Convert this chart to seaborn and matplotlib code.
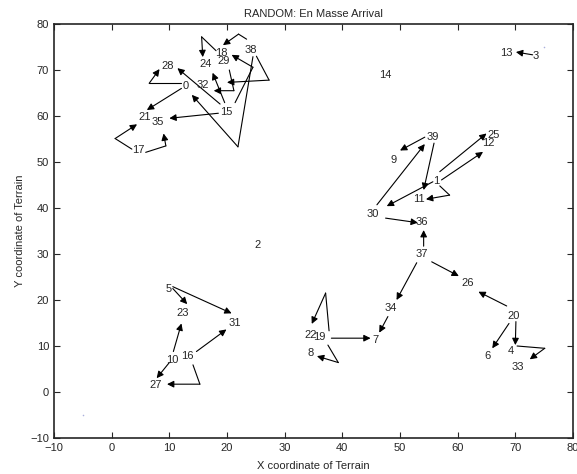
import seaborn as sns
import matplotlib.pyplot as plt
import pandas as pd

# node labels (where the number is written)
node_id = [0, 1, 2, 3, 4, 5, 6, 7, 8, 9, 10, 11, 12, 13, 14, 15, 16, 17, 18, 19,
           20, 21, 22, 23, 24, 25, 26, 27, 28, 29, 30, 31, 32, 33, 34, 35, 36, 37, 38, 39]
node_x = [12.3, 55.7, 24.7, 73.0, 68.7, 9.4, 64.6, 45.2, 33.9, 48.4, 9.5, 52.3, 64.3, 67.4, 46.4, 18.8, 12.1, 3.5, 17.9, 34.9,
          68.6, 4.6, 33.5, 11.3, 15.2, 65.1, 60.7, 6.6, 8.7, 18.4, 44.2, 20.3, 14.8, 69.4, 47.4, 6.9, 52.7, 52.7, 23.0, 54.6]
node_y = [66.6, 45.9, 32.0, 73.0, 8.9, 22.5, 7.9, 11.2, 8.4, 50.4, 7.0, 42.0, 54.1, 73.6, 68.9, 60.9, 7.8, 52.6, 73.8, 11.9,
          16.5, 59.7, 12.4, 17.1, 71.2, 55.9, 23.6, 1.5, 70.9, 72.0, 38.6, 14.9, 66.7, 5.5, 18.2, 58.8, 37.0, 30.0, 74.3, 55.4]

# movement paths, the last point is where the arrow points
path_x = [
    [12.0, 6.5, 8.3], [12.1, 6.1], [18.5, 10.0], [3.5, 0.6, 4.4], [5.9, 9.4, 9.0],
    [23.4, 22.0, 19.3], [18.1, 15.6, 15.8], [21.4, 24.5, 20.8], [25.1, 27.3, 20.0],
    [24.5, 21.9, 13.9], [20.4, 21.2, 17.7], [19.6, 17.5], [18.8, 11.4],
    [54.3, 50.0], [46.0, 54.3], [55.9, 54.1], [55.7, 47.7], [56.9, 65.0], [57.2, 64.4],
    [56.9, 58.6, 54.5], [47.5, 53.1], [54.1, 54.1],
    [52.9, 49.4], [55.5, 60.2], [68.5, 63.6], [68.9, 66.0], [70.1, 70.0], [70.3, 75.1, 72.5],
    [47.9, 46.4], [38.1, 44.9], [37.7, 37.1, 34.7], [37.5, 39.3, 35.6],
    [10.6, 13.1], [10.6, 20.8], [10.7, 12.1], [10.0, 7.8], [14.7, 19.9], [14.1, 15.3, 9.6],
    [73.0, 70.1],
]
path_y = [
    [67.1, 67.1, 70.2], [66.0, 61.3], [60.6, 59.5], [52.8, 55.1, 58.2], [52.1, 53.5, 56.2],
    [76.7, 77.8, 75.4], [74.2, 77.2, 72.8], [62.9, 70.6, 73.3], [73.0, 67.8, 67.3],
    [72.9, 53.3, 64.6], [70.0, 65.5, 65.5], [62.9, 69.4], [62.6, 70.4],
    [55.4, 52.5], [40.7, 53.9], [54.1, 43.9], [45.7, 40.4], [47.9, 56.2], [46.1, 52.2],
    [44.8, 42.8, 41.9], [37.8, 36.8], [31.7, 35.2],
    [28.1, 20.0], [28.3, 25.2], [18.7, 21.8], [14.9, 9.5], [15.3, 10.2], [10.0, 9.5, 7.1],
    [16.4, 12.9], [11.7, 11.7], [13.3, 21.5, 14.8], [10.2, 6.4, 7.8],
    [22.5, 19.1], [22.9, 17.1], [8.8, 14.9], [6.4, 3.0], [8.8, 13.6], [5.9, 1.7, 1.7],
    [73.3, 73.9],
]

# corner markers of the terrain
corner_x = [-5, 75]
corner_y = [-5, 75]

sns.set_style("ticks")
plt.rcParams['font.family'] = ['Liberation Sans', 'DejaVu Sans']
plt.rcParams['font.size'] = 8

fig = plt.figure(figsize=(5.77, 4.74), dpi=100)
ax = fig.add_axes([54 / 577, 36 / 474, 519 / 577, 414 / 474])

for xs, ys in zip(path_x, path_y):
    if len(xs) > 2:
        seg = pd.DataFrame({"x": xs[:-1], "y": ys[:-1]})
        sns.lineplot(data=seg, x="x", y="y", sort=False, estimator=None,
                     color="black", lw=0.8, ax=ax)
    ax.annotate("", xy=(xs[-1], ys[-1]), xytext=(xs[-2], ys[-2]),
                arrowprops=dict(arrowstyle="-|>", color="black", lw=0.8,
                                mutation_scale=10, shrinkA=0, shrinkB=0))

sns.scatterplot(x=corner_x, y=corner_y, s=1, color="#aab0dd", edgecolor=None, ax=ax)

for n, x, y in zip(node_id, node_x, node_y):
    ax.text(x, y, str(n), ha="left", va="center", fontsize=8)

ax.set_xlim(-10, 80)
ax.set_ylim(-10, 80)
ax.set_xticks(range(-10, 81, 10))
ax.set_yticks(range(-10, 81, 10))
ax.tick_params(direction="in", top=True, right=True, length=4, width=0.8, labelsize=8)
for s in ax.spines.values():
    s.set_linewidth(1.2)
ax.set_title("RANDOM: En Masse Arrival", fontsize=8, pad=5)
ax.set_xlabel("X coordinate of Terrain", fontsize=8, labelpad=6)
ax.set_ylabel("Y coordinate of Terrain", fontsize=8, labelpad=4)

fig.savefig("out.png", dpi=100)
